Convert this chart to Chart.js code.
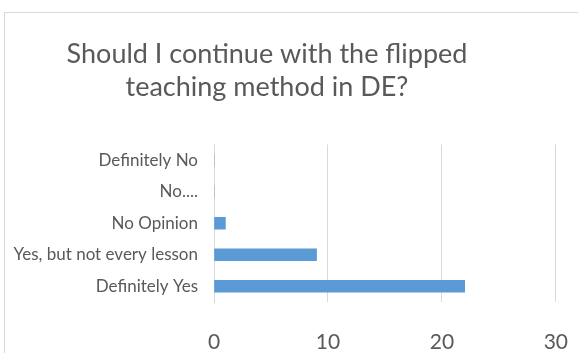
<!DOCTYPE html>
<html>
<head>
<meta charset="utf-8">
<script src="https://cdn.jsdelivr.net/npm/chart.js@4"></script>
<style>
  html, body { margin: 0; padding: 0; background: #fff; overflow: hidden; }
  #frame { position: absolute; left: 4px; top: 12px; width: 640px; height: 400px; border: 1px solid #d9d9d9; background: #fff; }
  #wrap { position: absolute; left: -62px; top: 0; width: 658px; height: 353px; }
</style>
</head>
<body>
<div id="frame"></div>
<div id="wrap"><canvas id="chart"></canvas></div>
<script>
// ── Data ──
const TITLE_LINES = ["Should I continue with the flipped", "teaching method in DE?"];
const CATEGORIES  = ["Definitely No", "No....", "No Opinion", "Yes, but not every lesson", "Definitely Yes"];
const VALUES      = [0, 0, 1, 9, 22];
const X_MIN = 0, X_MAX = 30, X_STEP = 10;

const BAR_COLOR  = "#5b9bd5";
const TEXT_COLOR = "#595959";
const GRID_COLOR = "#d9d9d9";

Chart.defaults.font.family = "Lato, 'Open Sans', sans-serif";

new Chart(document.getElementById("chart"), {
  type: "bar",
  data: {
    labels: CATEGORIES,
    datasets: [{
      data: VALUES,
      backgroundColor: BAR_COLOR,
      barThickness: 12,
    }]
  },
  options: {
    indexAxis: "y",
    responsive: true,
    maintainAspectRatio: false,
    animation: false,
    layout: { padding: 0 },
    plugins: {
      legend: { display: false },
      tooltip: { enabled: false },
      title: {
        display: true,
        text: TITLE_LINES,
        color: TEXT_COLOR,
        font: { size: 27, weight: "normal", lineHeight: 1.25 },
        padding: { top: 37, bottom: 40 },
      },
    },
    scales: {
      x: {
        min: X_MIN, max: X_MAX,
        ticks: { stepSize: X_STEP, color: TEXT_COLOR, font: { size: 21 }, padding: 28 },
        grid: { color: GRID_COLOR, drawTicks: false },
        border: { display: false },
        afterFit: s => { s.height = 51; },
      },
      y: {
        ticks: { color: TEXT_COLOR, font: { size: 17 }, padding: 16 },
        grid: { display: false, drawTicks: false },
        border: { display: true, color: GRID_COLOR },
        afterFit: s => { s.width = 276; },
      },
    },
  },
});
</script>
</body>
</html>
